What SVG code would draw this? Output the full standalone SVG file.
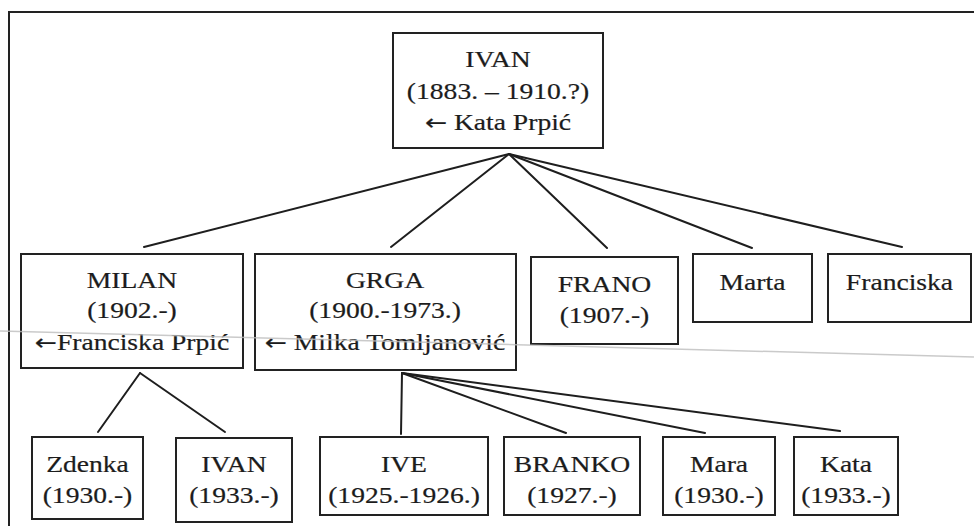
<svg xmlns="http://www.w3.org/2000/svg" width="974" height="526" viewBox="0 0 974 526">
<style>
.bg{fill:#ffffff}
.frame{fill:none;stroke:#222;stroke-width:2}
.box{fill:#ffffff;stroke:#222;stroke-width:2}
.ln{fill:none;stroke:#1e1e1e;stroke-width:2;stroke-linecap:round}
.scan{fill:none;stroke:#bdbdbd;stroke-width:1.5;opacity:0.8}
text{font-family:"Liberation Serif","Times New Roman",serif;font-size:23px;fill:#1c1c1c;stroke:#1c1c1c;stroke-width:0.2;text-anchor:middle}
.ar{font-family:"DejaVu Sans",sans-serif;font-size:22px}
</style>
<rect class="bg" x="0" y="0" width="974" height="526"/>
<path class="frame" d="M9,526 V12 H974"/>

<g id="connectors">
  <path class="ln" d="M509,154 L144,247"/>
  <path class="ln" d="M509,154 L391,247"/>
  <path class="ln" d="M509,154 L607,248"/>
  <path class="ln" d="M509,154 L752,248"/>
  <path class="ln" d="M509,154 L902,247"/>
  <path class="ln" d="M140,373 L98,432"/>
  <path class="ln" d="M140,373 L225,432"/>
  <path class="ln" d="M402,373 L401,434"/>
  <path class="ln" d="M402,373 L566,433"/>
  <path class="ln" d="M402,373 L705,433"/>
  <path class="ln" d="M402,373 L840,431"/>
</g>

<g id="n-ivan-root">
  <rect class="box" x="393" y="33" width="210" height="115"/>
  <text transform="translate(498 67) scale(1.2 1)">IVAN<tspan x="0" dy="32">(1883. – 1910.?)</tspan><tspan x="0" dy="31"><tspan class="ar">←</tspan> Kata Prpić</tspan></text>
</g>

<g id="n-milan">
  <rect class="box" x="21" y="254" width="222" height="114"/>
  <text transform="translate(132 288) scale(1.2 1)">MILAN<tspan x="0" dy="30">(1902.-)</tspan><tspan x="0" dy="32"><tspan class="ar">←</tspan>Franciska Prpić</tspan></text>
</g>
<g id="n-grga">
  <rect class="box" x="255" y="254" width="261" height="116"/>
  <text transform="translate(385 288) scale(1.2 1)">GRGA<tspan x="0" dy="30">(1900.-1973.)</tspan><tspan x="0" dy="32"><tspan class="ar">←</tspan> Milka Tomljanović</tspan></text>
</g>
<g id="n-frano">
  <rect class="box" x="531" y="257" width="147" height="87"/>
  <text transform="translate(604.5 292) scale(1.2 1)">FRANO<tspan x="0" dy="31">(1907.-)</tspan></text>
</g>
<g id="n-marta">
  <rect class="box" x="693" y="254" width="119" height="68"/>
  <text transform="translate(752.5 290) scale(1.2 1)">Marta</text>
</g>
<g id="n-franciska">
  <rect class="box" x="828" y="254" width="143" height="68"/>
  <text transform="translate(899.5 290) scale(1.2 1)">Franciska</text>
</g>

<g id="n-zdenka">
  <rect class="box" x="32" y="437" width="111" height="82"/>
  <text transform="translate(87.5 472) scale(1.2 1)">Zdenka<tspan x="0" dy="31">(1930.-)</tspan></text>
</g>
<g id="n-ivan-child">
  <rect class="box" x="176" y="438" width="116" height="84"/>
  <text transform="translate(234 472) scale(1.2 1)">IVAN<tspan x="0" dy="31">(1933.-)</tspan></text>
</g>
<g id="n-ive">
  <rect class="box" x="320" y="437" width="168" height="78"/>
  <text transform="translate(404 472) scale(1.2 1)">IVE<tspan x="0" dy="31">(1925.-1926.)</tspan></text>
</g>
<g id="n-branko">
  <rect class="box" x="504" y="437" width="136" height="78"/>
  <text transform="translate(572 472) scale(1.2 1)">BRANKO<tspan x="0" dy="31">(1927.-)</tspan></text>
</g>
<g id="n-mara">
  <rect class="box" x="663" y="437" width="112" height="78"/>
  <text transform="translate(719 472) scale(1.2 1)">Mara<tspan x="0" dy="31">(1930.-)</tspan></text>
</g>
<g id="n-kata">
  <rect class="box" x="794" y="437" width="104" height="78"/>
  <text transform="translate(846 472) scale(1.2 1)">Kata<tspan x="0" dy="31">(1933.-)</tspan></text>
</g>

<path class="scan" d="M0,331 L974,357"/>
</svg>
